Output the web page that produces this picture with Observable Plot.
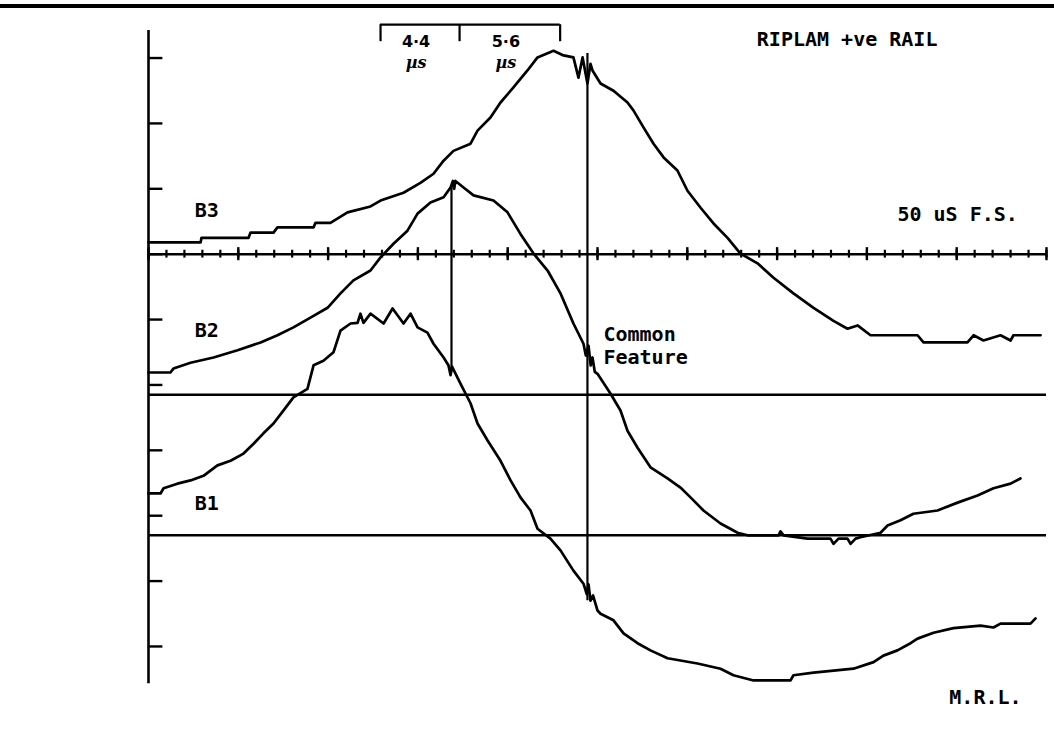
<!DOCTYPE html>
<html><head><meta charset="utf-8">
<script src="https://cdn.jsdelivr.net/npm/d3@7"></script>
<script src="https://cdn.jsdelivr.net/npm/@observablehq/plot@0.6"></script>
<style>
html,body{margin:0;padding:0;background:#fff;}
#wrap{position:relative;width:1054px;height:729px;overflow:hidden;background:#fff;}
#border{position:absolute;left:0;top:4px;width:1060px;height:0;border-top:4px solid #000;}
#wrap svg{display:block;position:absolute;left:0;top:0;}
</style></head><body><div id="wrap"><div id="border"></div></div>
<script>
// Time in microseconds (50 uS full scale), level in vertical divisions (ticks 0..9)
const b3Trace = [[0,6.18],[2.90,6.18],[2.95,6.25],[5.57,6.25],[5.68,6.33],[6.96,6.33],[7.18,6.41],[9.19,6.41],[9.30,6.48],[10.13,6.48],[11.08,6.64],[12.36,6.73],[12.92,6.82],[14.20,6.94],[15.14,7.09],[15.87,7.23],[16.43,7.43],[16.98,7.58],[17.93,7.69],[18.32,7.89],[19.04,8.09],[19.60,8.32],[20.32,8.55],[21.10,8.81],[21.66,9.01],[22.55,9.11],[23.11,9.04],[23.66,9.01],[23.94,8.70],[24.17,9.01],[24.44,8.61],[24.61,8.91],[24.72,8.81],[25.17,8.61],[25.89,8.50],[26.67,8.32],[27.00,8.20],[27.56,7.94],[28.12,7.69],[28.68,7.48],[29.45,7.28],[30.01,6.97],[30.74,6.71],[31.46,6.47],[32.24,6.25],[32.96,6.01],[33.91,5.86],[34.80,5.64],[35.91,5.40],[37.03,5.18],[38.14,4.98],[38.92,4.86],[39.48,4.91],[40.20,4.76],[42.82,4.76],[43.15,4.65],[45.60,4.65],[45.94,4.76],[46.49,4.68],[47.44,4.76],[48.00,4.68],[48.16,4.76],[49.67,4.76]];
const b2Trace = [[0,4.19],[1.22,4.19],[1.39,4.25],[2.34,4.34],[3.62,4.42],[4.96,4.53],[6.24,4.65],[7.18,4.76],[8.07,4.88],[9.02,5.03],[9.97,5.18],[10.69,5.40],[11.41,5.60],[12.36,5.75],[12.92,5.95],[13.64,6.16],[14.42,6.36],[14.98,6.62],[15.70,6.79],[16.43,6.87],[16.82,7.02],[16.95,7.12],[17.02,7.00],[17.09,7.12],[17.54,7.02],[18.10,6.90],[19.21,6.82],[19.99,6.64],[20.71,6.31],[21.44,6.01],[22.22,5.75],[22.94,5.40],[23.66,4.94],[24.22,4.63],[24.35,4.45],[24.50,4.60],[24.62,4.30],[24.72,4.42],[24.85,4.20],[25.00,4.17],[25.72,3.87],[26.28,3.61],[26.67,3.30],[27.23,3.04],[27.95,2.74],[28.90,2.57],[29.62,2.43],[30.18,2.28],[30.90,2.08],[31.85,1.88],[32.80,1.74],[33.35,1.70],[35.08,1.70],[35.19,1.76],[35.36,1.70],[36.69,1.65],[37.97,1.65],[38.14,1.57],[38.42,1.65],[38.92,1.65],[39.09,1.57],[39.37,1.65],[39.64,1.67],[40.76,1.74],[41.15,1.85],[41.87,1.93],[42.59,2.03],[43.93,2.08],[45.05,2.20],[46.16,2.31],[47.05,2.42],[48.00,2.49],[48.55,2.57]];
const b1Trace = [[0,2.34],[0.67,2.34],[0.84,2.42],[1.61,2.49],[2.34,2.54],[3.06,2.61],[3.84,2.77],[4.57,2.84],[5.29,2.95],[5.85,3.10],[6.40,3.26],[6.96,3.41],[7.52,3.61],[8.07,3.81],[8.85,3.94],[9.19,4.30],[9.74,4.37],[10.30,4.50],[10.69,4.83],[11.25,4.94],[11.64,4.95],[11.80,5.09],[11.97,4.95],[12.36,5.09],[13.09,4.94],[13.59,5.17],[14.20,4.94],[14.59,5.09],[14.98,4.88],[15.53,4.80],[15.87,4.63],[16.43,4.42],[16.70,4.30],[16.82,4.15],[16.90,4.28],[17.37,4.02],[17.93,3.72],[18.32,3.41],[18.88,3.15],[19.60,2.84],[20.16,2.54],[20.71,2.28],[21.27,2.08],[21.66,1.80],[22.38,1.65],[22.94,1.47],[23.66,1.16],[24.22,0.96],[24.40,0.80],[24.50,0.95],[24.61,0.70],[24.75,0.78],[25.00,0.55],[25.17,0.50],[25.89,0.40],[26.45,0.20],[27.23,0.05],[27.95,-0.06],[28.90,-0.18],[30.57,-0.26],[31.85,-0.34],[32.57,-0.44],[33.69,-0.52],[35.75,-0.52],[35.91,-0.44],[37.03,-0.40],[39.25,-0.34],[40.37,-0.24],[40.92,-0.14],[41.70,-0.06],[42.43,0.05],[42.82,0.12],[43.71,0.21],[44.82,0.28],[46.33,0.32],[47.05,0.29],[47.44,0.35],[49.11,0.35],[49.39,0.43]];

const seriesNames = ["B3", "B2", "B1"];
const seriesBaselines = [6.0, 3.85, 1.70];
const levelTicks = [0, 1, 2, 3, 4, 5, 6, 7, 8, 9];
const fullScaleUs = 50;
const minorStepUs = 1;
const majorStepUs = 5;
const markerTimes = [16.87, 24.44];
const markerLow = [4.25, 0.70];
const markerHigh = [7.05, 9.07];
const bracketStart = 12.92;
const bracketIntervals = [4.4, 5.6];
const bracketLabels = ["4·4", "5·6"];
const titleText = "RIPLAM +ve RAIL";
const scaleText = "50 uS F.S.";
const featureText = "Common\nFeature";
const footerText = "M.R.L.";

const traces = [b3Trace, b2Trace, b1Trace];
const rows = [];
traces.forEach((tr, i) => tr.forEach(([t, v]) => rows.push({series: seriesNames[i], t, v})));

const minorTicks = d3.range(0, fullScaleUs + 0.001, minorStepUs);
const majorTicks = d3.range(0, fullScaleUs + 0.001, majorStepUs);
const markers = markerTimes.map((t, i) => ({t, lo: markerLow[i], hi: markerHigh[i]}));
const bracketEdges = [bracketStart];
bracketIntervals.forEach(d => bracketEdges.push(bracketEdges[bracketEdges.length - 1] + d));
const bracketTop = 9.51, bracketFoot = 9.25;
const bracketText = bracketIntervals.map((d, i) => ({t: bracketEdges[i] + d / 2, label: bracketLabels[i]}));
const axisBase = seriesBaselines[0];
const labelRows = seriesNames.map((s, i) => ({s, t: 3.25, v: [6.67, 4.83, 2.19][i]}));

const mono = "DejaVu Sans Mono, Liberation Mono, monospace";
const chart = Plot.plot({
  width: 1054, height: 729,
  marginTop: 0, marginRight: 0, marginBottom: 0, marginLeft: 0,
  x: {domain: [0, fullScaleUs], range: [148, 1046], axis: null},
  y: {domain: [-1.27, 9.88], range: [729, 0], axis: null},
  style: {background: "white", color: "black"},
  marks: [
    Plot.ruleX([0], {y1: -0.57, y2: 9.42, stroke: "black", strokeWidth: 2.6}),
    Plot.ruleY(levelTicks, {x1: 0, x2: 0.8, stroke: "black", strokeWidth: 2.4}),
    Plot.ruleY(seriesBaselines, {x1: 0, x2: fullScaleUs, stroke: "black", strokeWidth: 2.4}),
    Plot.ruleX(minorTicks, {y1: axisBase - 0.06, y2: axisBase + 0.06, stroke: "black", strokeWidth: 2.2}),
    Plot.ruleX(majorTicks, {y1: axisBase - 0.1, y2: axisBase + 0.1, stroke: "black", strokeWidth: 2.4}),
    Plot.ruleX(markers, {x: "t", y1: "lo", y2: "hi", stroke: "black", strokeWidth: 2.2}),
    Plot.ruleY([bracketTop], {x1: bracketEdges[0], x2: bracketEdges[bracketEdges.length - 1], stroke: "black", strokeWidth: 2.2}),
    Plot.ruleX(bracketEdges, {y1: bracketFoot, y2: bracketTop, stroke: "black", strokeWidth: 2.2}),
    Plot.text(bracketText, {x: "t", y: 9.25, text: "label", dx: -4, fontSize: 16, fontWeight: "bold", fontFamily: "DejaVu Sans, sans-serif"}),
    Plot.text(bracketText, {x: "t", y: 8.93, text: () => "µs", dx: -4, fontSize: 16, fontStyle: "italic", fontWeight: "bold", fontFamily: "DejaVu Serif, serif"}),
    Plot.line(rows, {x: "t", y: "v", z: "series", stroke: "black", strokeWidth: 2.7, strokeLinejoin: "round"}),
    Plot.text(labelRows, {x: "t", y: "v", text: "s", fontSize: 20, fontWeight: "bold", fontFamily: mono}),
    Plot.text([titleText], {x: 38.9, y: 9.28, text: d => d, fontSize: 20, fontWeight: "bold", fontFamily: mono}),
    Plot.text([scaleText], {x: 45.05, y: 6.61, text: d => d, fontSize: 20, fontWeight: "bold", fontFamily: mono}),
    Plot.text([featureText], {x: 25.33, y: 4.61, text: d => d, textAnchor: "start", lineHeight: 1.15, fontSize: 20, fontWeight: "bold", fontFamily: mono}),
    Plot.text([footerText], {x: 46.6, y: -0.78, text: d => d, fontSize: 20, fontWeight: "bold", fontFamily: mono})
  ]
});
document.getElementById("wrap").insertBefore(chart, document.getElementById("border"));
</script>
</body></html>
